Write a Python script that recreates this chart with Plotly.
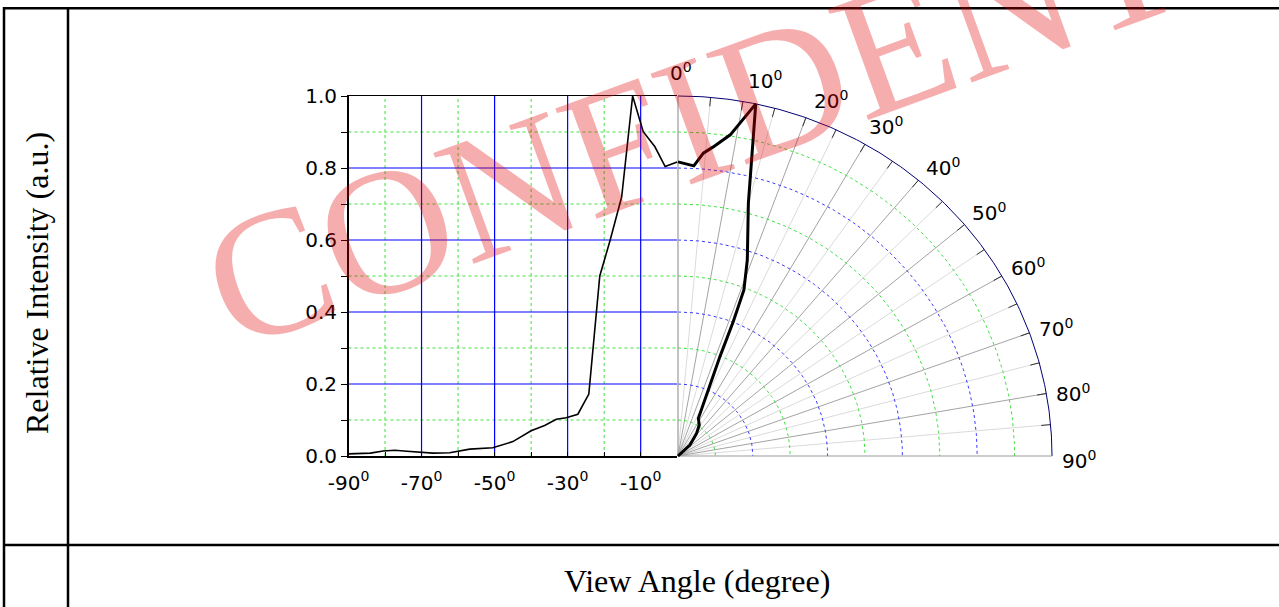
import numpy as np
import plotly.graph_objects as go

W, H = 1279, 607

# ---------------- data ----------------
# left (cartesian) half: negative view angles
neg_angle = [-90, -84, -80.5, -77.3, -74, -70, -66.9, -62.3, -56.8, -50.5, -45, -40,
             -36.3, -33.1, -30.4, -27.2, -24.2, -21.2, -18.4, -15.2, -12.2, -9.3,
             -6.1, -3.3, 0]
neg_intensity = [0.006, 0.008, 0.014, 0.016, 0.013, 0.011, 0.008, 0.009, 0.019, 0.023,
                 0.040, 0.070, 0.085, 0.102, 0.106, 0.116, 0.172, 0.500, 0.598, 0.720,
                 1.000, 0.901, 0.859, 0.804, 0.817]

# right (polar) half: positive view angles
pos_angle = [0, 3.0, 4.6, 6.2, 8.9, 12.0, 15.0, 18.8, 20.9, 21.6, 22.1, 27.5, 33.5,
             38.4, 46.3, 90]
pos_intensity = [0.817, 0.807, 0.844, 0.863, 0.903, 1.000, 0.727, 0.575, 0.494, 0.401,
                 0.298, 0.118, 0.103, 0.080, 0.044, 0.0]

y_ticks = [0.0, 0.2, 0.4, 0.6, 0.8, 1.0]
y_minor = [0.1, 0.3, 0.5, 0.7, 0.9]
x_ticks = [-90, -70, -50, -30, -10]
x_minor = [-80, -60, -40, -20]
x_major_grid = [-70, -50, -30, -10]
y_major_grid = [0.2, 0.4, 0.6, 0.8]
polar_labels = [0, 10, 20, 30, 40, 50, 60, 70, 80, 90]
ring_major = [0.2, 0.4, 0.6, 0.8]
ring_minor = [0.1, 0.3, 0.5, 0.7, 0.9]
spoke_major = [10, 20, 30, 40, 50, 60, 70, 80]
spoke_minor = [5, 15, 25, 35, 45, 55, 65, 75, 85]

# label placement nudges (degrees along the arc), layout only
label_nudge = [0.0, 2.2, 2.2, 1.0, 1.3, 0.7, 0.7, 0.7, 0.7, 0.7]

# ---------------- helpers ----------------
def px(x):
    return x / W

def py(y):
    return 1 - y / H

TICKFONT = dict(family="DejaVu Sans", size=20, color="black")
SERIF = "Liberation Serif"
BLUE = "#0000ff"
GREEN = "#3fe03f"

fig = go.Figure()

def add_line(x, y, color, width, dash="solid", axes=("x2", "y2")):
    fig.add_trace(go.Scatter(x=list(x), y=list(y), mode="lines",
                             line=dict(color=color, width=width, dash=dash),
                             xaxis=axes[0], yaxis=axes[1], showlegend=False,
                             hoverinfo="skip"))

# ---------- left cartesian panel ----------
L = ("x", "y")
for v in x_minor:
    add_line([v, v], [0, 1], GREEN, 1, "dot", L)
for v in y_minor:
    add_line([-90, 0], [v, v], GREEN, 1, "dot", L)
for v in x_major_grid:
    add_line([v, v], [0, 1], BLUE, 1.2, "solid", L)
for v in y_major_grid:
    add_line([-90, 0], [v, v], BLUE, 1.2, "solid", L)

fig.add_trace(go.Scatter(
    x=neg_angle, y=neg_intensity, mode="lines",
    line=dict(color="black", width=1.6), xaxis="x", yaxis="y",
    showlegend=False, hoverinfo="skip"))

# ---------- polar panel (drawn on cartesian axes x2/y2) ----------
def polar_xy(theta_deg, r):
    t = np.radians(np.asarray(theta_deg, dtype=float))
    r = np.asarray(r, dtype=float)
    return r * np.sin(t), r * np.cos(t)

arc_t = np.linspace(0, 90, 181)

for a in spoke_minor:
    x, y = polar_xy([a, a], [0, 1])
    add_line(x, y, "#d0d0d0", 0.8)
for a in spoke_major:
    x, y = polar_xy([a, a], [0, 1])
    add_line(x, y, "#8c8c8c", 0.8)
for a in spoke_minor + spoke_major:
    x, y = polar_xy([a, a], [0.975, 1])
    add_line(x, y, "#333333", 1)
for r in ring_minor:
    x, y = polar_xy(arc_t, np.full_like(arc_t, r))
    add_line(x, y, GREEN, 1, "dot")
for r in ring_major:
    x, y = polar_xy(arc_t, np.full_like(arc_t, r))
    add_line(x, y, "#3a3aff", 1, "dot")
x, y = polar_xy(arc_t, np.ones_like(arc_t))
add_line(x, y, "#000070", 1)
x, y = polar_xy([0, 0], [0, 1])
add_line(x, y, "#9a9a9a", 1.2)
x, y = polar_xy([90, 90], [0, 1])
add_line(x, y, "#9a9a9a", 1.2)

x, y = polar_xy(pos_angle, pos_intensity)
fig.add_trace(go.Scatter(x=x, y=y, mode="lines",
                         line=dict(color="black", width=3),
                         xaxis="x2", yaxis="y2", showlegend=False,
                         hoverinfo="skip"))

annotations = []
for a, nudge in zip(polar_labels, label_nudge):
    lx, ly = polar_xy(a + nudge, 1.065)
    nd = len(str(a))
    annotations.append(dict(
        x=float(lx), y=float(ly), xref="x2", yref="y2",
        text=f"{a}<sup>0</sup>", showarrow=False,
        xanchor="left", yanchor="middle", xshift=-6.8 * nd - 3, yshift=1,
        font=TICKFONT))

# full-figure helper axes (x3/y3) for free text
annotations.append(dict(x=px(37), y=py(283), xref="x3", yref="y3",
                        xanchor="center", yanchor="middle",
                        text="Relative Intensity (a.u.)", textangle=-90,
                        showarrow=False, font=dict(family=SERIF, size=32, color="black")))
annotations.append(dict(x=px(697), y=py(581), xref="x3", yref="y3",
                        xanchor="center", yanchor="middle",
                        text="View Angle (degree)", showarrow=False,
                        font=dict(family=SERIF, size=32, color="black")))
# watermark
annotations.append(dict(x=px(833), y=py(68), xref="x3", yref="y3",
                        xanchor="center", yanchor="middle",
                        text="CONFIDENTIAL", textangle=-20, showarrow=False,
                        font=dict(family=SERIF, size=180, color="rgba(228,0,0,0.32)")))

# table frame
shapes = []
def seg(x0, y0, x1, y1, w=2.5):
    shapes.append(dict(type="line", xref="paper", yref="paper",
                       x0=px(x0), y0=py(y0), x1=px(x1), y1=py(y1),
                       line=dict(color="black", width=w)))
seg(3, 8.3, W, 8.3)
seg(4, 7, 4, H)
seg(68, 7, 68, H)
seg(3, 545, W, 545)

# axes geometry (pixel anchors)
X0, XL = 677.2, 348.5       # x=0 deg, x=-90 deg
YB, YT = 456.0, 96.0        # intensity 0 and 1
CX = 678.0                  # polar centre
RX = 374.0                  # polar radius in px (horizontal)

x2_range = [-0.02, 1.2]
y2_range = [-0.02, 1.2]
x2_dom = [px(CX + x2_range[0] * RX), px(CX + x2_range[1] * RX)]
y2_dom = [py(YB - y2_range[0] * (YB - YT)), py(YB - y2_range[1] * (YB - YT))]

fig.update_layout(
    template="none",
    width=W, height=H,
    margin=dict(l=0, r=0, t=0, b=0, pad=0),
    paper_bgcolor="white", plot_bgcolor="rgba(0,0,0,0)",
    showlegend=False,
    xaxis=dict(domain=[px(XL), px(X0)], range=[-90, 0], anchor="y",
               showline=True, linecolor="black", linewidth=1.5, mirror=True,
               tickmode="array", tickvals=x_ticks,
               ticktext=[f"{v}<sup>0</sup>" for v in x_ticks],
               ticks="inside", ticklen=4, tickcolor="black", tickwidth=1,
               ticklabelstandoff=8,
               showgrid=False, automargin=False,
               minor=dict(tickmode="array", tickvals=x_minor, ticks="inside",
                          ticklen=4, tickcolor="black", tickwidth=1, showgrid=False),
               tickfont=TICKFONT, zeroline=False, fixedrange=True),
    yaxis=dict(domain=[py(YB), py(YT)], range=[0, 1], anchor="x",
               showline=True, linecolor="black", linewidth=1.5,
               tickmode="array", tickvals=y_ticks,
               ticktext=[f"{v:.1f}" for v in y_ticks],
               ticks="outside", ticklen=6, tickcolor="black", tickwidth=1,
               showgrid=False, automargin=False,
               minor=dict(tickmode="array", tickvals=y_minor, ticks="outside",
                          ticklen=6, tickcolor="black", tickwidth=1, showgrid=False),
               tickfont=TICKFONT, zeroline=False, fixedrange=True),
    xaxis2=dict(domain=x2_dom, range=x2_range, anchor="y2", visible=False,
                automargin=False, fixedrange=True),
    yaxis2=dict(domain=y2_dom, range=y2_range, anchor="x2", visible=False,
                automargin=False, fixedrange=True),
    xaxis3=dict(domain=[0, 1], range=[0, 1], anchor="y3", visible=False,
                automargin=False, fixedrange=True),
    yaxis3=dict(domain=[0, 1], range=[0, 1], anchor="x3", visible=False,
                automargin=False, fixedrange=True),
    annotations=annotations,
    shapes=shapes,
)

fig.write_html(
    "out.html",
    config={"displayModeBar": False, "staticPlot": True},
    post_script="document.body.style.margin='0';document.body.style.overflow='hidden';",
)
